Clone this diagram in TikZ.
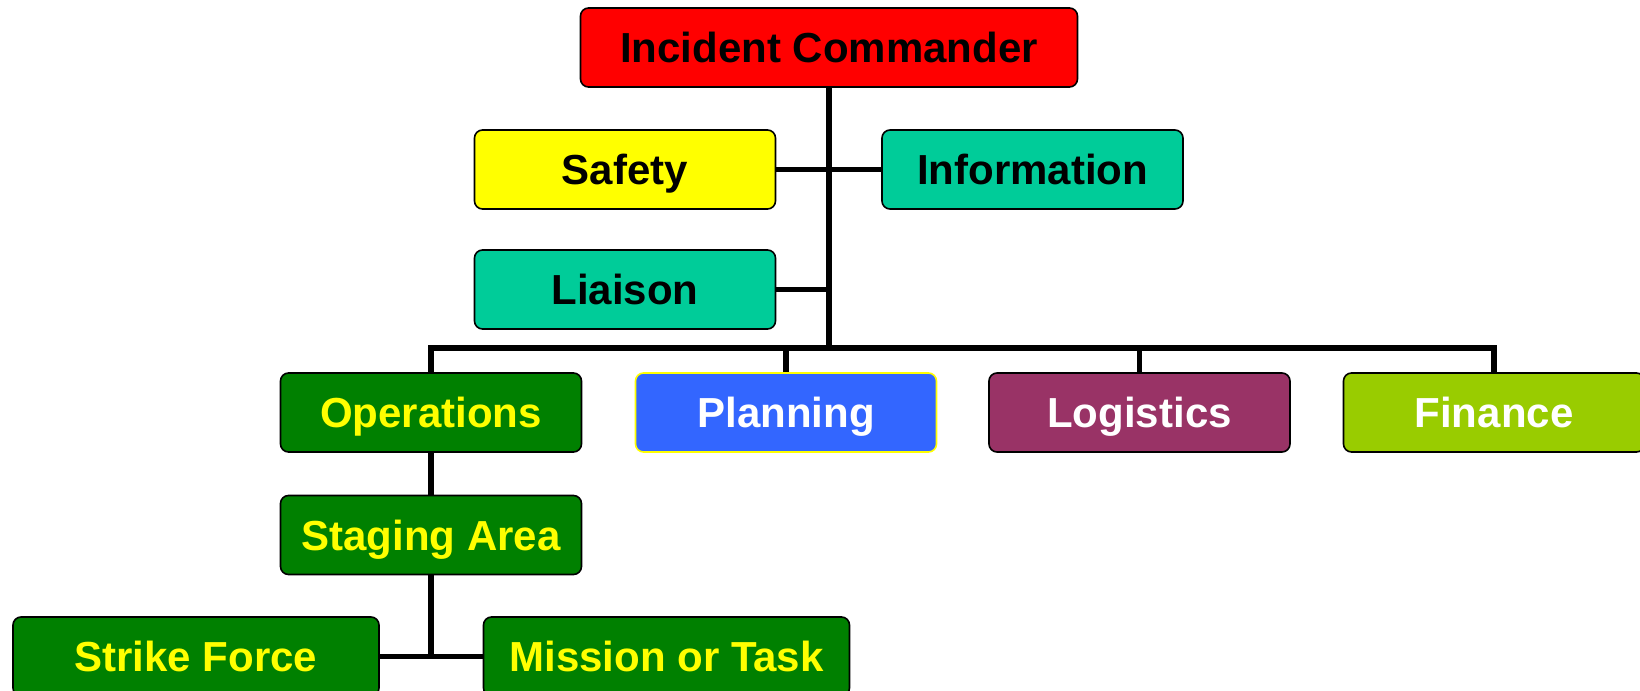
\documentclass[tikz,border=0pt]{standalone}
\usepackage{fontspec}
\setmainfont{Liberation Sans}
\usepackage{tikz}
\definecolor{icred}{HTML}{FF0000}
\definecolor{safeyellow}{HTML}{FFFF00}
\definecolor{staffteal}{HTML}{00CC99}
\definecolor{opsgreen}{HTML}{008000}
\definecolor{planblue}{HTML}{3366FF}
\definecolor{logiplum}{HTML}{993366}
\definecolor{finlime}{HTML}{99CC00}
\tikzstyle{unit}=[rectangle,rounded corners=4pt,draw=black,line width=0.8pt,
                  minimum width=150.5pt,minimum height=39.5pt,inner sep=0pt,
                  text height=15pt,text depth=0pt,
                  font=\fontsize{21}{25}\selectfont\bfseries]
\tikzstyle{wideunit}=[unit,minimum width=183pt]
\tikzstyle{link}=[draw=black,line width=2.6pt]

\begin{document}
\begin{tikzpicture}[x=0.5pt,y=-0.5pt]
    \useasboundingbox (0,0) rectangle (1640,691);
    \node (ic) at (829,47.5) [unit,fill=icred,minimum width=248.5pt]{Incident Commander};
    \node (safety) at (625,169.5) [unit,fill=safeyellow]{Safety};
    \node (info) at (1032.5,169.5) [unit,fill=staffteal]{Information};
    \node (liaison) at (625,289.5) [unit,fill=staffteal]{Liaison};
    \node (ops) at (431,412.5) [unit,fill=opsgreen,text=safeyellow]{Operations};
    \node (plan) at (786,412.5) [unit,fill=planblue,draw=safeyellow,text=white]{Planning};
    \node (logi) at (1139.5,412.5) [unit,fill=logiplum,text=white]{Logistics};
    \node (fin) at (1494,412.5) [unit,fill=finlime,text=white]{Finance};
    \node (stage) at (431,535) [unit,fill=opsgreen,text=safeyellow]{Staging Area};
    \node (strike) at (196,656.5) [wideunit,fill=opsgreen,text=safeyellow]{Strike Force};
    \node (mission) at (666.5,656.5) [wideunit,fill=opsgreen,text=safeyellow]{Mission or Task};
    \coordinate (bar) at (829,348);
    \draw[link] (ic.south) -- (bar);
    \draw[link] (safety) -- (info);
    \draw[link] (liaison.east) -- (liaison.east -| bar);
    \draw[link] (ops.north) |- (bar) -| (fin.north);
    \draw[link] (plan.north) -- (plan.north |- bar);
    \draw[link] (logi.north) -- (logi.north |- bar);
    \draw[link] (ops) -- (stage);
    \draw[link] (stage.south) -- (stage.south |- strike.east);
    \draw[link] (strike) -- (mission);
  \end{tikzpicture}
\end{document}
